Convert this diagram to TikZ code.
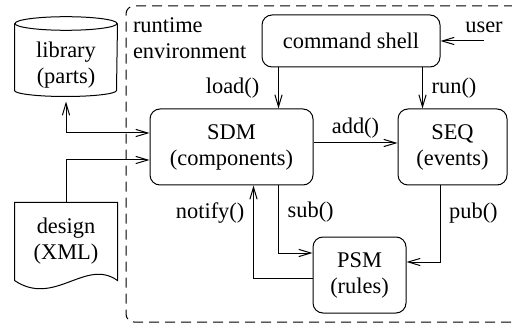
\documentclass[tikz,border=0pt]{standalone}
\usepackage{fontspec}
\setmainfont{Liberation Serif}
\usetikzlibrary{arrows.meta}

\begin{document}
\begin{tikzpicture}[
    x=0.5pt, y=-0.5pt,
    >={Straight Barb[length=6pt,width=3.6pt]},
    line width=0.5pt,
    font=\fontsize{11.2}{13}\selectfont,
    module/.style={draw, rounded corners=5pt, align=center, inner sep=0pt},
    extern/.style={align=center, minimum width=51pt, inner sep=0pt},
    envframe/.style={draw, rounded corners=4pt, dash pattern=on 5pt off 3pt,
      inner sep=0pt}
    ]

    \useasboundingbox (0,0) rectangle (512,325);

    % runtime environment
    \node[envframe, minimum width=198pt, minimum height=158pt] (env) at (324,164) {};
    \node[anchor=north west, align=left, inner sep=0pt] (envlabel)
      at ([shift={(3.5pt,-6pt)}]env.north west) {runtime\\environment};

    % modules
    \node[module, minimum width=89pt, minimum height=26pt] (shell) at (351,41) {command shell};
    \node[module, minimum width=81.5pt, minimum height=38pt] (sdm) at (231.5,147) {SDM\\(components)};
    \node[module, minimum width=54.5pt, minimum height=38pt] (seq) at (452.5,147) {SEQ\\(events)};
    \node[module, minimum width=46.5pt, minimum height=38pt] (psm) at (359.5,275) {PSM\\(rules)};
    \node (user) at (484,27) {user};

    % parts library (drum)
    \node[extern, minimum height=41pt] (lib) at (66,65) {library\\(parts)};
    \draw (lib.north) ellipse [x radius=25.5pt, y radius=3.4pt];
    \draw (lib.north west) -- ([yshift=8pt]lib.south west)
      arc [start angle=180, end angle=360, x radius=25.5pt, y radius=3pt]
      -- (lib.north east);
    \coordinate (libbottom) at ([yshift=5pt]lib.south);

    % design file (document)
    \node[extern, minimum height=38.5pt] (design) at (66,241.5) {design\\(XML)};
    \draw (design.south west) -- (design.north west) -- (design.north east) -- (design.south east)
      .. controls +(-16pt,11.5pt) and +(20pt,-13.5pt) .. cycle;

    \coordinate (loadend) at ([xshift=23.5pt]sdm.north);
    \coordinate (runend) at ([xshift=-15pt]seq.north);
    \coordinate (addstart) at ([yshift=2pt]sdm.east);
    \coordinate (substart) at ([xshift=23.5pt]sdm.south);
    \coordinate (notifyend) at ([xshift=11pt]sdm.south);
    \coordinate (pubstart) at ([xshift=-6.25pt]seq.south);

    \draw[->] (user.south |- shell.east) -- (shell.east);
    \draw[->] (loadend |- shell.south) -- (loadend) node[midway, left=6pt] {load()};
    \draw[->] (runend |- shell.south) -- (runend) node[midway, right=1pt] {run()};
    \draw[->] (addstart) -- (addstart -| seq.west) node[midway, above=-1pt] {add()};
    \draw[->] (substart) |- ([yshift=11pt]psm.west) node[pos=0.2, right=1pt] {sub()};
    \draw[->] ([yshift=-1.5pt]psm.west) -| (notifyend) node[pos=0.85, left=1pt] {notify()};
    \draw[->] (pubstart) |- ([yshift=6.5pt]psm.east) node[pos=0.18, right=1pt] {pub()};
    \draw[<->, shorten <=2.5pt] (libbottom) |- ([yshift=7pt]sdm.west);
    \draw[->] (design.north) |- ([yshift=-6.5pt]sdm.west);

  \end{tikzpicture}
\end{document}
